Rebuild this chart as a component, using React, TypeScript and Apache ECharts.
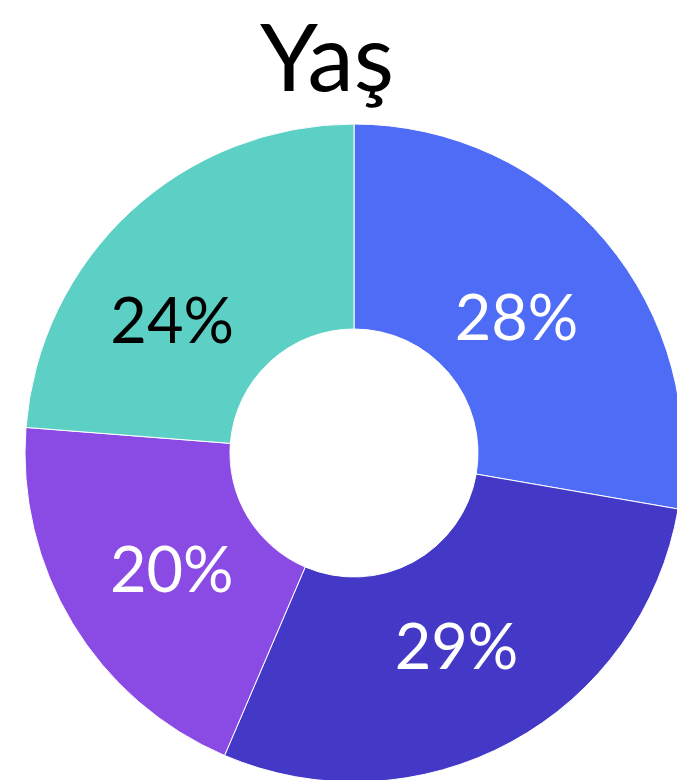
import React, { useEffect, useRef } from "react";
import * as echarts from "echarts";

const categories = ["A", "B", "C", "D"];
const values = [28, 29, 20, 24];
const colors = ["#4F6CF7", "#4439C7", "#8A4AE4", "#5DD0C5"];
const labelColors = ["#ffffff", "#ffffff", "#ffffff", "#000000"];
const labelShiftX = [-13, -7, 14, -26];
const labelShiftY = [10, -10, -4, 34];
const title = "Yaş";

export default function App() {
  const ref = useRef<HTMLDivElement>(null);
  useEffect(() => {
    document.body.style.margin = "0";
    const chart = echarts.init(ref.current!, null, { renderer: "svg" });
    chart.setOption({
      animation: false,
      title: {
        text: title,
        left: 327,
        textAlign: "center",
        top: 0,
        padding: 0,
        textStyle: { fontFamily: "Lato", fontWeight: 400, fontSize: 93, lineHeight: 110, color: "#000" },
      },
      series: [
        {
          type: "pie",
          center: [354, 453],
          radius: [124, 329],
          startAngle: 90,
          clockwise: true,
          itemStyle: { borderColor: "#ffffff", borderWidth: 1 },
          label: {
            position: "inside",
            fontFamily: "Lato",
            fontSize: 63,
            formatter: (p: any) => `${p.value}%`,
          },
          labelLine: { show: false },
          labelLayout: (p: any) => ({ dx: labelShiftX[p.dataIndex], dy: labelShiftY[p.dataIndex] }),
          emphasis: { disabled: true },
          data: categories.map((c, i) => ({
            name: c,
            value: values[i],
            itemStyle: { color: colors[i] },
            label: { color: labelColors[i] },
          })),
        },
      ],
    });
    return () => chart.dispose();
  }, []);
  return <div ref={ref} style={{ width: 677, height: 780 }} />;
}
